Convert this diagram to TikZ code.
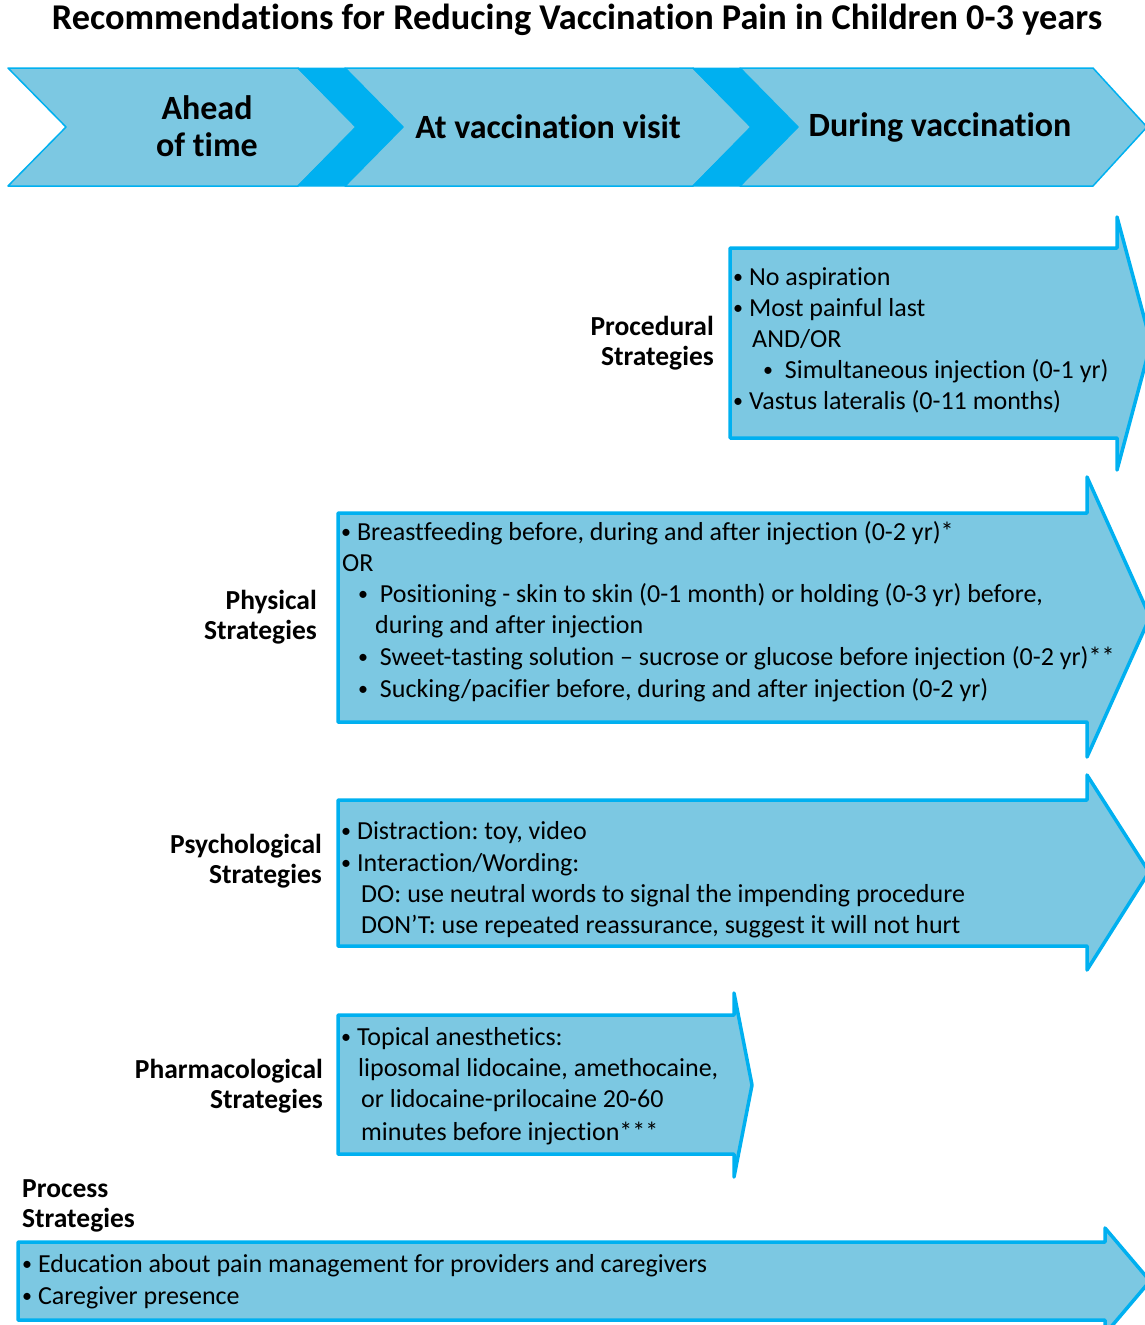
\documentclass[tikz,border=0pt]{standalone}
\usepackage{fontspec}
\setmainfont{Carlito}[Ligatures=CommonOff]
\frenchspacing
\newcommand{\bul}{\raisebox{1.2pt}{\fontsize{20}{20}\selectfont •}}
\definecolor{boxfill}{RGB}{124,200,226}
\definecolor{boxline}{RGB}{0,176,240}
\begin{document}
\begin{tikzpicture}[x=1pt,y=-1pt,
  shapebox/.style={fill=boxfill,draw=boxline,line width=3.5pt,line join=round},
  chev/.style={fill=boxfill,draw=boxline,line width=1.5pt,line join=round},
  band/.style={fill=boxline,draw=boxline,line width=1pt,line join=round},
  ln/.style={anchor=base west,inner sep=0pt,font=\fontsize{26}{31}\selectfont},
  lab/.style={anchor=base east,inner sep=0pt,font=\bfseries\fontsize{27.5}{31}\selectfont},
  labl/.style={anchor=base west,inner sep=0pt,font=\bfseries\fontsize{27.5}{31}\selectfont},
  head/.style={inner sep=0pt,font=\bfseries\fontsize{34}{37}\selectfont,align=center}]
\useasboundingbox (0,0) rectangle (1145,1325);
\clip (0,0) rectangle (1145,1325);
% title
\node[head,font=\bfseries\fontsize{36.3}{40}\selectfont] (title) at (577,20) {Recommendations for Reducing Vaccination Pain in Children 0-3 years};
% header chevrons
\draw[chev] (8,68) -- (298,68) -- (356,127) -- (298,186) -- (8,186) -- (66,127) -- cycle;
\draw[band] (298,68) -- (345,68) -- (403,127) -- (345,186) -- (298,186) -- (356,127) -- cycle;
\draw[chev] (345,68) -- (693,68) -- (751,127) -- (693,186) -- (345,186) -- (403,127) -- cycle;
\draw[band] (693,68) -- (740,68) -- (798,127) -- (740,186) -- (693,186) -- (751,127) -- cycle;
\draw[chev] (740,68) -- (1093,68) -- (1147,127) -- (1093,186) -- (740,186) -- (798,127) -- cycle;
\node[head] (ahead) at (207,126) {Ahead\\of time};
\node[head] (visit) at (548,127) {At vaccination visit};
\node[head] (during) at (940,127) {During vaccination};
% procedural
\draw[shapebox] (730,248) -- (1117,248) -- (1117,217) -- (1151,343) -- (1117,470) -- (1117,438) -- (730,438) -- cycle;
\node[lab] (procA) at (714,335) {Procedural};
\node[lab] (procB) at (714,365) {Strategies};
\node[ln] (p1) at (733,285) {\bul\ No aspiration};
\node[ln] (p2) at (733,316) {\bul\ Most painful last};
\node[ln] (p3) at (752,347) {AND/OR};
\node[ln] (p4) at (763,378) {\bul\ \ Simultaneous injection (0-1 yr)};
\node[ln] (p5) at (733,409) {\bul\ Vastus lateralis (0-11 months)};
% physical
\draw[shapebox] (338,513) -- (1087,513) -- (1087,477) -- (1150,617) -- (1087,757) -- (1087,722) -- (338,722) -- cycle;
\node[lab] (phyA) at (317,609) {Physical};
\node[lab] (phyB) at (317,639) {Strategies};
\node[ln] (f1) at (341,540) {\bul\ Breastfeeding before, during and after injection (0-2 yr)*};
\node[ln] (f2) at (342,571) {OR};
\node[ln] (f3) at (358,602) {\bul\ \ Positioning - skin to skin (0-1 month) or holding (0-3 yr) before,};
\node[ln] (f4) at (375,633) {during and after injection};
\node[ln] (f5) at (358,665) {\bul\ \ Sweet-tasting solution – sucrose or glucose before injection (0-2 yr)**};
\node[ln] (f6) at (358,697) {\bul\ \ Sucking/pacifier before, during and after injection (0-2 yr)};
% psychological
\draw[shapebox] (338,800) -- (1087,800) -- (1087,775) -- (1149,872) -- (1087,970) -- (1087,946) -- (338,946) -- cycle;
\node[lab] (psyA) at (322,853) {Psychological};
\node[lab] (psyB) at (322,883) {Strategies};
\node[ln] (s1) at (341,839) {\bul\ Distraction: toy, video};
\node[ln] (s2) at (341,871) {\bul\ Interaction/Wording:};
\node[ln] (s3) at (361,902) {DO: use neutral words to signal the impending procedure};
\node[ln] (s4) at (361,933) {DON’T: use repeated reassurance, suggest it will not hurt};
% pharmacological
\draw[shapebox] (338,1015) -- (734,1015) -- (734,993) -- (752,1085) -- (734,1177) -- (734,1154) -- (338,1154) -- cycle;
\node[lab] (phaA) at (323,1078) {Pharmacological};
\node[lab] (phaB) at (323,1108) {Strategies};
\node[ln] (m1) at (341,1045) {\bul\ Topical anesthetics:};
\node[ln] (m2) at (358,1076) {liposomal lidocaine, amethocaine,};
\node[ln] (m3) at (361,1107) {or lidocaine-prilocaine 20-60};
\node[ln] (m4) at (361,1140) {minutes before injection***};
% process
\node[labl] (proA) at (22,1197) {Process};
\node[labl] (proB) at (22,1227) {Strategies};
\draw[shapebox] (18,1242) -- (1105,1242) -- (1105,1228) -- (1150,1281) -- (1105,1334) -- (1105,1320) -- (18,1320) -- cycle;
\node[ln] (r1) at (22,1272) {\bul\ Education about pain management for providers and caregivers};
\node[ln] (r2) at (22,1304) {\bul\ Caregiver presence};
\end{tikzpicture}
\end{document}
